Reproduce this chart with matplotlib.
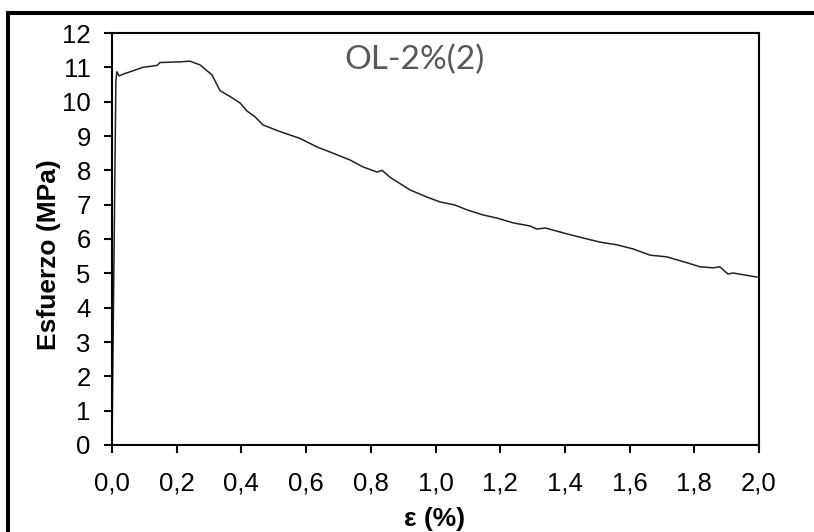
import numpy as np
import matplotlib.pyplot as plt
from matplotlib.lines import Line2D

# strain (%) and stress (MPa)
strain = [0.0, 0.012, 0.015, 0.022, 0.04, 0.065, 0.096, 0.127, 0.14, 0.148, 0.18, 0.21, 0.241,
          0.272, 0.309, 0.334, 0.365, 0.396, 0.417, 0.442, 0.467, 0.519, 0.581, 0.634, 0.683,
          0.736, 0.776, 0.819, 0.835, 0.859, 0.921, 0.974, 1.014, 1.06, 1.097, 1.147, 1.19,
          1.24, 1.292, 1.313, 1.34, 1.363, 1.406, 1.456, 1.508, 1.561, 1.611, 1.663, 1.715,
          1.777, 1.818, 1.858, 1.879, 1.904, 1.92, 1.994]
stress = [0.0, 10.6, 10.87, 10.75, 10.82, 10.9, 11.0, 11.04, 11.06, 11.14, 11.15, 11.16, 11.18,
          11.07, 10.78, 10.32, 10.15, 9.96, 9.73, 9.56, 9.32, 9.13, 8.93, 8.68, 8.5,
          8.3, 8.1, 7.95, 8.0, 7.8, 7.43, 7.22, 7.08, 6.99, 6.85, 6.70, 6.61,
          6.47, 6.38, 6.29, 6.32, 6.26, 6.15, 6.03, 5.91, 5.83, 5.71, 5.53, 5.48,
          5.31, 5.19, 5.16, 5.19, 4.98, 5.01, 4.89]

xticks = np.arange(0, 2.01, 0.2)
xtick_labels = ['0,0', '0,2', '0,4', '0,6', '0,8', '1,0', '1,2', '1,4', '1,6', '1,8', '2,0']
yticks = list(range(0, 13))

plt.rcParams['font.family'] = ['Liberation Sans', 'DejaVu Sans']

fig = plt.figure(figsize=(8.14, 5.32), dpi=100)
W, H = 814, 532
ax = fig.add_axes([112 / W, 1 - 445 / H, (759 - 112) / W, (445 - 33) / H])

ax.plot(strain, stress, color='#222222', lw=1.1)

ax.set_xlim(0, 2.0)
ax.set_ylim(0, 12)
ax.set_xticks(xticks)
ax.set_xticklabels(xtick_labels)
ax.set_yticks(yticks)

for s in ax.spines.values():
    s.set_linewidth(1.5)
ax.tick_params(direction='out', length=5.8, width=1.5, labelsize=18.5)
ax.tick_params(axis='x', pad=13.5)
ax.tick_params(axis='y', pad=9.5)

ax.set_xlabel('ε (%)', fontsize=19, fontweight='bold')
ax.set_ylabel('Esfuerzo (MPa)', fontsize=19, fontweight='bold')
ax.xaxis.set_label_coords(0.498, -0.15)
ax.yaxis.set_label_coords(-0.079, 0.461)

ax.text(415 / W, 1 - 60 / H, 'OL-2%(2)', transform=fig.transFigure, ha='center', va='center',
        fontsize=24, color='#595959', family=['Lato', 'DejaVu Sans'])

# outer frame (only top and left edges visible)
fig.add_artist(Line2D([8 / W, 1], [1 - 13 / H, 1 - 13 / H], transform=fig.transFigure,
                      color='black', lw=2.9))
fig.add_artist(Line2D([8 / W, 8 / W], [0, 1 - 13 / H], transform=fig.transFigure,
                      color='black', lw=2.9))

fig.savefig('out.png', dpi=100)
